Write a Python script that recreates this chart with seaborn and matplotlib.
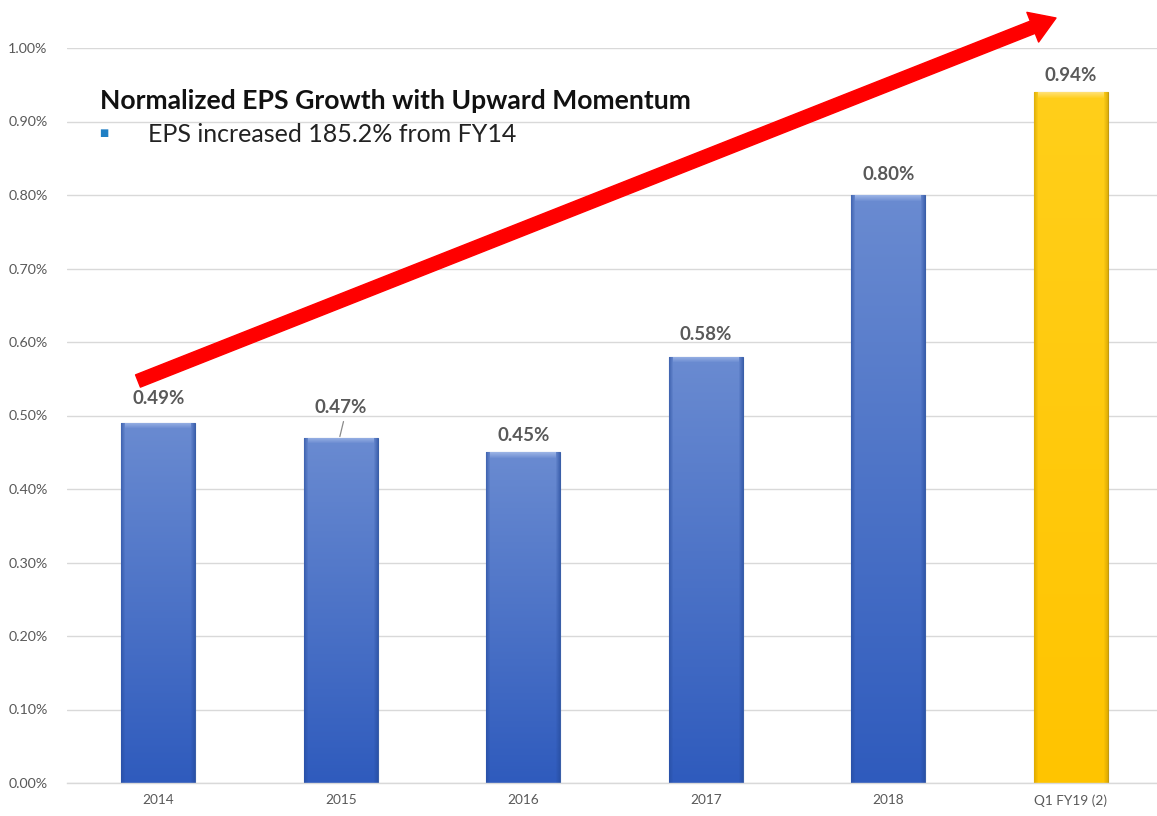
import numpy as np
import pandas as pd
import matplotlib
matplotlib.use("Agg")
import matplotlib.pyplot as plt
import seaborn as sns
from matplotlib.patches import FancyArrowPatch
from matplotlib.ticker import FuncFormatter, FixedLocator
from matplotlib.colors import to_rgb

# ---- data ----
periods = ["2014", "2015", "2016", "2017", "2018", "Q1 FY19 (2)"]
eps_pct = [0.49, 0.47, 0.45, 0.58, 0.80, 0.94]
value_labels = ["0.49%", "0.47%", "0.45%", "0.58%", "0.80%", "0.94%"]
y_ticks = [0.0, 0.1, 0.2, 0.3, 0.4, 0.5, 0.6, 0.7, 0.8, 0.9, 1.0]
title_text = "Normalized EPS Growth with Upward Momentum"
bullet_text = "EPS increased 185.2% from FY14"

sns.set_theme(style="white")
plt.rcParams["font.family"] = ["Lato", "DejaVu Sans"]

W, H = 1157, 816
fig = plt.figure(figsize=(W / 100, H / 100), dpi=100)
ax_left, ax_right, ax_top, ax_bot = 67, 1162, 48, 783
ax = fig.add_axes([ax_left / W, 1 - ax_bot / H, (ax_right - ax_left) / W, (ax_bot - ax_top) / H])

df = pd.DataFrame({"period": periods, "eps": eps_pct})
palette = ["#4a72c6"] * 5 + ["#ffc80a"]
sns.barplot(data=df, x="period", y="eps", hue="period", palette=palette,
            width=0.405, legend=False, ax=ax, zorder=3, linewidth=0)

ax.set_xlim(-0.5, 5.5)
ax.set_ylim(0, 1.0)

px_per_unit = (ax_bot - ax_top) / 1.0


def shaded_fill(top_c, bot_c, edge_c, bevel_c, rows, cols):
    """Vertical gradient with darker side edges and a light bevel along the top."""
    t = np.linspace(0, 1, rows)[:, None, None]
    top = np.array(to_rgb(top_c))[None, None, :]
    bot = np.array(to_rgb(bot_c))[None, None, :]
    img = top * (1 - t) + bot * t
    img = np.repeat(img, cols, axis=1)
    edge = np.array(to_rgb(edge_c))
    bev = np.array(to_rgb(bevel_c))
    side = 4
    for k in range(side):
        a = 0.55 * (1 - k / side)
        img[:, k, :] = img[:, k, :] * (1 - a) + edge * a
        img[:, cols - 1 - k, :] = img[:, cols - 1 - k, :] * (1 - a) + edge * a
    nb = min(6, rows)
    for k in range(nb):
        a = 0.75 * (1 - k / nb)
        img[k, side:cols - side, :] = img[k, side:cols - side, :] * (1 - a) + bev * a
    return np.clip(img, 0, 1)


bars = list(ax.patches)
for i, bar in enumerate(bars):
    x0, w, h = bar.get_x(), bar.get_width(), bar.get_height()
    rows = max(int(round(h * px_per_unit)), 2)
    if i < 5:
        img = shaded_fill("#6a8bd1", "#2f5bbd", "#254a9a", "#a9bfeb", rows, 74)
        bar.set_edgecolor("#3a5fa8")
    else:
        img = shaded_fill("#ffcf1a", "#ffc400", "#c99a00", "#ffe690", rows, 74)
        bar.set_edgecolor("#c29a10")
    bar.set_linewidth(0.8)
    im = ax.imshow(img, extent=[x0, x0 + w, 0, h], aspect="auto",
                   origin="upper", zorder=3.5, interpolation="nearest")
    im.set_clip_path(bar)

ax.set_xlim(-0.5, 5.5)
ax.set_ylim(0, 1.0)

# ---- axes styling ----
for s in ["top", "right", "left"]:
    ax.spines[s].set_visible(False)
ax.spines["bottom"].set_color("#d9d9d9")
ax.spines["bottom"].set_linewidth(1.0)
ax.spines["bottom"].set_zorder(4)

ax.yaxis.set_major_locator(FixedLocator(y_ticks))
ax.yaxis.set_major_formatter(FuncFormatter(lambda v, p: f"{v:.2f}%"))
ax.grid(axis="y", color="#d9d9d9", linewidth=1.0, zorder=0)
ax.set_axisbelow(True)
ax.tick_params(axis="y", length=0, pad=14, labelsize=10.3, labelcolor="#595959")
ax.tick_params(axis="x", which="major", length=0, pad=8, labelsize=9.8, labelcolor="#595959")
ax.xaxis.set_minor_locator(FixedLocator(np.arange(-0.5, 6.0, 1.0)))
ax.tick_params(axis="x", which="minor", length=4, width=1, color="#d9d9d9", direction="out")
ax.set_xlabel("")
ax.set_ylabel("")

# ---- value labels ----
label_offsets = [24, 30, 17, 22, 21, 17]
for i, (v, lab) in enumerate(zip(eps_pct, value_labels)):
    off = label_offsets[i] / px_per_unit
    ax.text(i, v + off, lab, ha="center", va="center", fontsize=13.5,
            fontweight="bold", color="#595959", zorder=6)
# leader line for the 2015 label
ax.plot([1.015, 0.995], [eps_pct[1] + 16 / px_per_unit, eps_pct[1] + 1 / px_per_unit],
        color="#8a8a8a", linewidth=0.9, zorder=6)

# ---- momentum arrow ----
def to_data(px, py):
    cat_w = (ax_right - ax_left) / 6
    return (px - ax_left) / cat_w - 0.5, (ax_bot - py) / px_per_unit

arrow = FancyArrowPatch(to_data(138, 381), to_data(1056, 18),
                        arrowstyle="simple,head_length=1.8,head_width=2.3,tail_width=0.95",
                        mutation_scale=10, color="#ff0000", shrinkA=0, shrinkB=0,
                        clip_on=False, zorder=7)
ax.add_patch(arrow)

# ---- headline text ----
fig.text(100 / W, 1 - 101 / H, title_text, fontsize=19.1, fontweight="bold",
         color="#111111", ha="left", va="center")
fig.text(104 / W, 1 - 133 / H, "\u25A0", fontsize=7, color="#1f7fc4",
         ha="center", va="center", family=["DejaVu Sans"])
fig.text(148 / W, 1 - 134 / H, bullet_text, fontsize=18, color="#222222",
         ha="left", va="center")

fig.savefig("out.png", dpi=100)
